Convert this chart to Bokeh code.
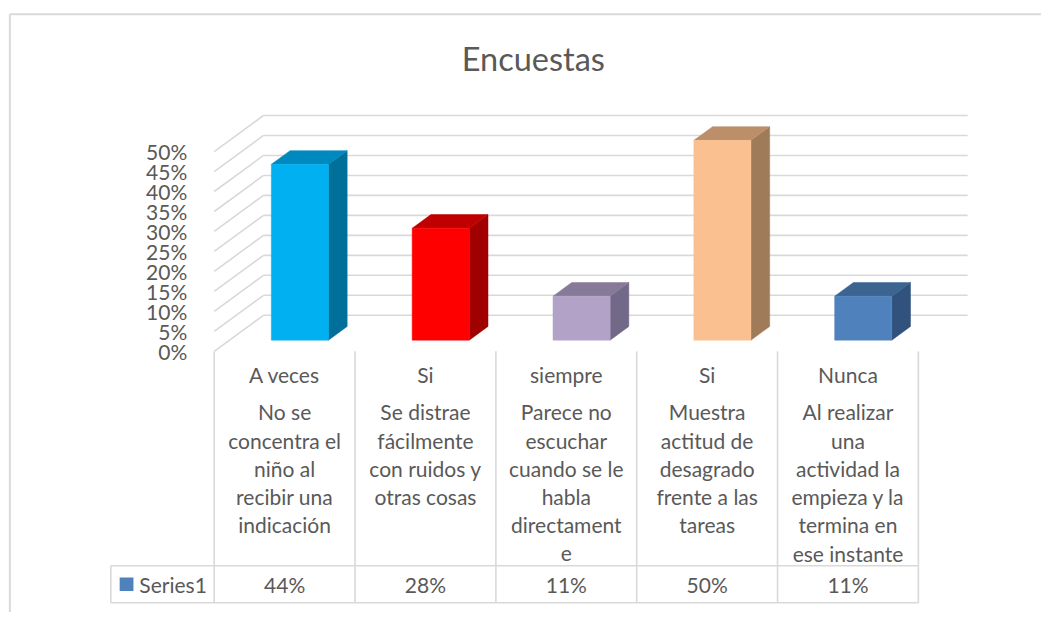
from bokeh.plotting import figure
from bokeh.models import Range1d, LinearAxis, FixedTicker, NumeralTickFormatter
from bokeh.core.properties import value
from bokeh.embed import file_html
from bokeh.resources import INLINE

# ---------------- data ----------------
title_text = "Encuestas"
answers = ["A veces", "Si", "siempre", "Si", "Nunca"]
questions = [
    ["No se", "concentra el", "niño al", "recibir una", "indicación"],
    ["Se distrae", "fácilmente", "con ruidos y", "otras cosas"],
    ["Parece no", "escuchar", "cuando se le", "habla", "directament", "e"],
    ["Muestra", "actitud de", "desagrado", "frente a las", "tareas"],
    ["Al realizar", "una", "actividad la", "empieza y la", "termina en", "ese instante"],
]
values = [0.44, 0.28, 0.11, 0.50, 0.11]
series_name = "Series1"
y_ticks = [0.0, 0.05, 0.10, 0.15, 0.20, 0.25, 0.30, 0.35, 0.40, 0.45, 0.50]

front_colors = ["#00B0F0", "#FF0000", "#B3A2C7", "#FAC090", "#4F81BD"]
top_colors = ["#0089BE", "#C00000", "#877A99", "#BC8E69", "#3C6491"]
side_colors = ["#00709A", "#A00000", "#726888", "#A07B5A", "#31527C"]
series_color = "#4F81BD"

# ---------------- layout ----------------
W, H = 1041, 612          # canvas
RW, RH = 1057.0, 628.0    # design space (layout pixels), scaled to the canvas
SX, SY = W / RW, H / RH
PX_X = 143.0              # design px per category
PX_Y = 410.0              # design px per unit of value
X0 = 288.5                # design px of category 0 centre
Y0 = 360.0                # design px of value 0 on the front plane


def dx(px):
    return px / PX_X


def dy(px):
    return px / PX_Y


def fx(px):   # design px -> data x
    return (px - X0) / PX_X


def fy(py):   # design px (from top) -> data y
    return (Y0 - py) / PX_Y


GRID = "#D9D9D9"
TXT = "#595959"
FONT = "Lato"
FS = "21px"

p = figure(width=W, height=H, output_backend="svg", toolbar_location=None,
           x_axis_type=None, y_axis_type=None, min_border=0,
           x_range=Range1d(fx(0), fx(RW)), y_range=Range1d(fy(RH), fy(0)))
p.outline_line_color = None
p.background_fill_color = "white"
p.border_fill_color = "white"

n = len(values)
left_edge = -0.5
right_edge = n - 0.5

# 3-D oblique depth (full depth of the plot box)
BACK_DX, BACK_DY = dx(50), dy(37)
F1, F2 = 0.31, 0.69
BAR_W = dx(58)

# ---- back wall gridlines and side wall diagonals ----
m = len(y_ticks)
p.segment(x0=[left_edge + BACK_DX] * m, y0=[t + BACK_DY for t in y_ticks],
          x1=[right_edge + BACK_DX] * m, y1=[t + BACK_DY for t in y_ticks],
          line_color=GRID, line_width=1.6)
p.segment(x0=[left_edge] * m, y0=y_ticks,
          x1=[left_edge + BACK_DX] * m, y1=[t + BACK_DY for t in y_ticks],
          line_color=GRID, line_width=1.6)

# ---- 3-D bars ----
fl, fr, fb, ft = [], [], [], []
side_xs, side_ys, top_xs, top_ys = [], [], [], []
for i, v in enumerate(values):
    ox, oy = F1 * BACK_DX, F1 * BACK_DY
    ex, ey = (F2 - F1) * BACK_DX, (F2 - F1) * BACK_DY
    l = i - BAR_W / 2 + ox
    r = i + BAR_W / 2 + ox
    b = oy
    t = v + oy
    fl.append(l); fr.append(r); fb.append(b); ft.append(t)
    side_xs.append([r, r + ex, r + ex, r])
    side_ys.append([b, b + ey, t + ey, t])
    top_xs.append([l, l + ex, r + ex, r])
    top_ys.append([t, t + ey, t + ey, t])

p.patches(side_xs, side_ys, fill_color=side_colors, line_color=side_colors, line_width=0.5)
p.patches(top_xs, top_ys, fill_color=top_colors, line_color=top_colors, line_width=0.5)
p.quad(left=fl, right=fr, bottom=fb, top=ft, fill_color=front_colors,
       line_color=front_colors, line_width=0.5)

# ---- y axis (front plane) ----
yaxis = LinearAxis(fixed_location=left_edge, ticker=FixedTicker(ticks=y_ticks),
                   formatter=NumeralTickFormatter(format="0%"))
yaxis.axis_line_color = None
yaxis.major_tick_line_color = None
yaxis.minor_tick_line_color = None
yaxis.major_label_standoff = 21
yaxis.major_label_text_font = FONT
yaxis.major_label_text_font_size = FS
yaxis.major_label_text_color = TXT
p.add_layout(yaxis, "left")

# ---- data table ----
row_sep = fy(580)      # separator between labels and values
tab_bot = fy(618)
leg_left = fx(112)
col_edges = [left_edge + k for k in range(n + 1)]
p.segment(x0=col_edges, y0=[0.0] * len(col_edges), x1=col_edges, y1=[tab_bot] * len(col_edges),
          line_color=GRID, line_width=1.6)
p.segment(x0=[leg_left, leg_left, leg_left], y0=[row_sep, tab_bot, row_sep],
          x1=[right_edge, right_edge, leg_left], y1=[row_sep, tab_bot, tab_bot],
          line_color=GRID, line_width=1.6)

idx = list(range(n))
p.text(x=idx, y=[fy(384)] * n, text=answers, text_align="center", text_baseline="middle",
       text_font=value(FONT), text_font_size=FS, text_color=TXT)
qx, qy, qt = [], [], []
for i, lines in enumerate(questions):
    for k, s in enumerate(lines):
        qx.append(i); qy.append(fy(422 + 29 * k)); qt.append(s)
p.text(x=qx, y=qy, text=qt, text_align="center", text_baseline="middle",
       text_font=value(FONT), text_font_size=FS, text_color=TXT)
p.text(x=idx, y=[fy(599)] * n, text=[f"{round(v * 100)}%" for v in values],
       text_align="center", text_baseline="middle",
       text_font=value(FONT), text_font_size=FS, text_color=TXT)

# legend key of the data table
p.quad(left=[fx(121)], right=[fx(135)], bottom=[fy(606)], top=[fy(592)],
       fill_color=series_color, line_color=None)
p.text(x=[fx(141)], y=[fy(599)], text=[series_name], text_align="left", text_baseline="middle",
       text_font=value(FONT), text_font_size=FS, text_color=TXT)

# ---- title ----
p.text(x=[fx(541)], y=[fy(60)], text=[title_text], text_align="center", text_baseline="middle",
       text_font=value(FONT), text_font_size="32.5px", text_color=TXT)

# ---- chart area border ----
p.segment(x0=[fx(9.5), fx(9.5)], y0=[fy(14), fy(14)], x1=[fx(9.5), fx(RW)], y1=[fy(RH), fy(14)],
          line_color=GRID, line_width=2)

open("out.html", "w").write(file_html(p, INLINE))
